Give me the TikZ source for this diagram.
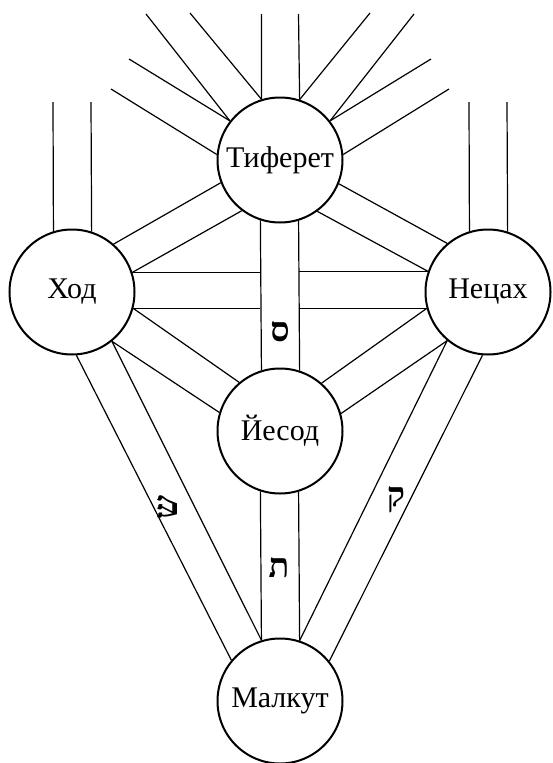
\documentclass[tikz,border=0pt]{standalone}
\usepackage{fontspec}
\setmainfont{Liberation Serif}
\newfontfamily\hebfont[Script=Hebrew]{Liberation Serif}
\TeXXeTstate=1
\usepackage{tikz}
\usetikzlibrary{calc}
\tikzset{
  sef/.style={circle,draw,line width=2pt,fill=white,minimum size=125pt,inner sep=0pt,font=\fontsize{30}{32}\selectfont},
  ch/.style={line width=1.2pt},
  hb/.style={inner sep=0pt,font=\hebfont\bfseries\fontsize{34}{36}\selectfont}
}
\begin{document}
\begin{tikzpicture}[x=1pt,y=-1pt]
\useasboundingbox (0,0) rectangle (552,763);
\node[sef] (tif) at (280,160) {Тиферет};
\node[sef] (hod) at (72,292) {Ход};
\node[sef] (net) at (488,292) {Нецах};
\node[sef] (yes) at (280,431) {Йесод};
\node[sef] (mal) at (280,701) {Малкут};
% free ends above
\coordinate (kl) at (261.5,14);
\coordinate (kr) at (298.5,14);
\coordinate (bl1) at (146,14);
\coordinate (bl2) at (190,13);
\coordinate (gl1) at (129,59);
\coordinate (gl2) at (111,89);
\coordinate (br1) at (414,14);
\coordinate (br2) at (370,13);
\coordinate (gr1) at (431,59);
\coordinate (gr2) at (449,89);
\coordinate (hl) at (53,102);
\coordinate (hr) at (91,102);
\coordinate (nl) at (469,102);
\coordinate (nr) at (507,102);
% rays round Tiferet
\draw[ch] (tif.107.2) -- (kl) (tif.72.8) -- (kr);
\draw[ch] (tif.142) -- (bl1) (tif.107.2) -- (bl2);
\draw[ch] (tif.142) -- (gl1) (tif.175) -- (gl2);
\draw[ch] (tif.38) -- (br1) (tif.72.8) -- (br2);
\draw[ch] (tif.38) -- (gr1) (tif.5) -- (gr2);
\draw[ch] (hod.107.6) -- (hl) (hod.72.4) -- (hr);
\draw[ch] (net.107.6) -- (nl) (net.72.4) -- (nr);
% channels
\draw[ch] (hod.49.3) -- (tif.201.6) (hod.18.5) -- (tif.233.8);
\draw[ch] (net.130.7) -- (tif.338.4) (net.161.5) -- (tif.306.2);
\draw[ch] (hod.18.5) -- (hod.18.5 -| tif.252.8) (net.161.5 -| tif.287.2) -- (net.161.5);
\draw[ch] (hod.345) -- (hod.345 -| tif.252.8) (net.195 -| tif.287.2) -- (net.195);
\draw[ch] (tif.252.8) -- (yes.107.2) (tif.287.2) -- (yes.72.8);
\draw[ch] (hod.345) -- (yes.130.5) (hod.309.2) -- (yes.163.8);
\draw[ch] (net.195) -- (yes.49.5) (net.230.8) -- (yes.16.2);
\draw[ch] (hod.309.2) -- (mal.107.2) (hod.274.6) -- (mal.140.6);
\draw[ch] (net.230.8) -- (mal.72.8) (net.265.4) -- (mal.39.4);
\draw[ch] (yes.252.8) -- (mal.107.2) (yes.287.2) -- (mal.72.8);
% letters
\node[hb] (samekh) at (280,332) {\beginR ס\endR};
\node[hb] (tav) at (279,568) {\beginR ת\endR};
\node[hb,rotate=90] (shin) at (168,507) {\beginR ש\endR};
\node[hb] (qof) at (396,500) {\beginR ק\endR};
\end{tikzpicture}
\end{document}
